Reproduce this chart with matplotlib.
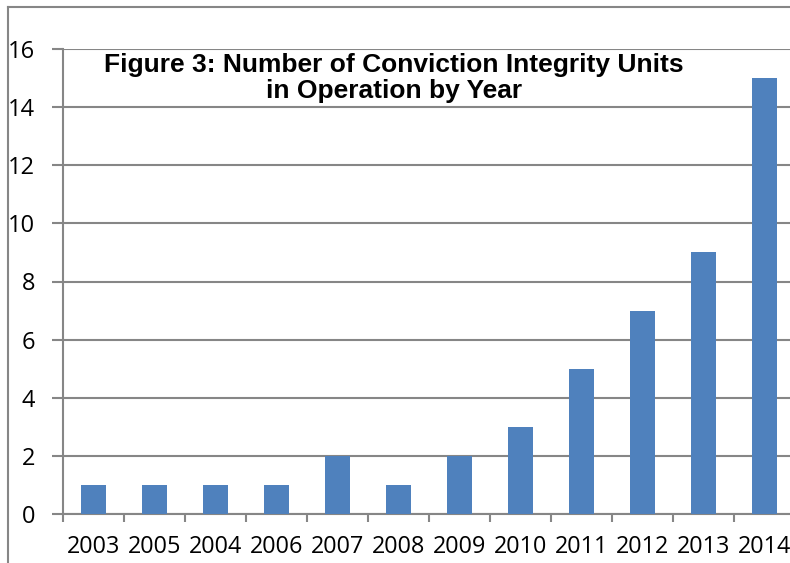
import matplotlib.pyplot as plt
from matplotlib.lines import Line2D

# Data
years = ['2003', '2005', '2004', '2006', '2007', '2008',
         '2009', '2010', '2011', '2012', '2013', '2014']
units = [1, 1, 1, 1, 2, 1, 2, 3, 5, 7, 9, 15]

W, H = 790, 563
fig = plt.figure(figsize=(W / 100, H / 100), dpi=100)
ax = fig.add_axes([63 / W, 49 / H, 732 / W, 465 / H])

grid_c = '#868686'
x = list(range(len(years)))
ax.bar(x, units, width=0.4, color='#4F81BD', zorder=3)

ax.set_xlim(-0.5, len(years) - 0.5)
ax.set_ylim(0, 16)
ax.set_yticks(range(0, 17, 2))
ax.yaxis.grid(True, color=grid_c, linewidth=1.5, zorder=0)
ax.set_xticks([i - 0.5 for i in range(len(years) + 1)], minor=False)
ax.set_xticklabels([])
ax.set_xticks(x, minor=True)
ax.set_xticklabels(years, minor=True)
ax.tick_params(axis='x', which='major', length=6, width=1.5, color=grid_c)
ax.tick_params(axis='x', which='minor', length=0, pad=15, labelsize=16.8)
ax.tick_params(axis='y', length=8, width=1.5, color=grid_c, pad=12, labelsize=17)
for lab in ax.get_xticklabels(minor=True) + ax.get_yticklabels():
    lab.set_fontfamily('Open Sans')

for s in ['top', 'right']:
    ax.spines[s].set_visible(False)
for s in ['left', 'bottom']:
    ax.spines[s].set_color(grid_c)
    ax.spines[s].set_linewidth(1.5)

fig.text(394 / W, 1 - 78 / H, 'Figure 3: Number of Conviction Integrity Units\nin Operation by Year',
         ha='center', va='center', fontsize=19, fontweight='bold',
         family=['Liberation Sans', 'DejaVu Sans'], linespacing=1.12)

# outer frame
fig.add_artist(Line2D([8 / W, 1], [1 - 7 / H, 1 - 7 / H], color=grid_c, linewidth=1.5))
fig.add_artist(Line2D([8 / W, 8 / W], [0, 1 - 7 / H], color=grid_c, linewidth=1.5))

fig.savefig('out.png', dpi=100)
